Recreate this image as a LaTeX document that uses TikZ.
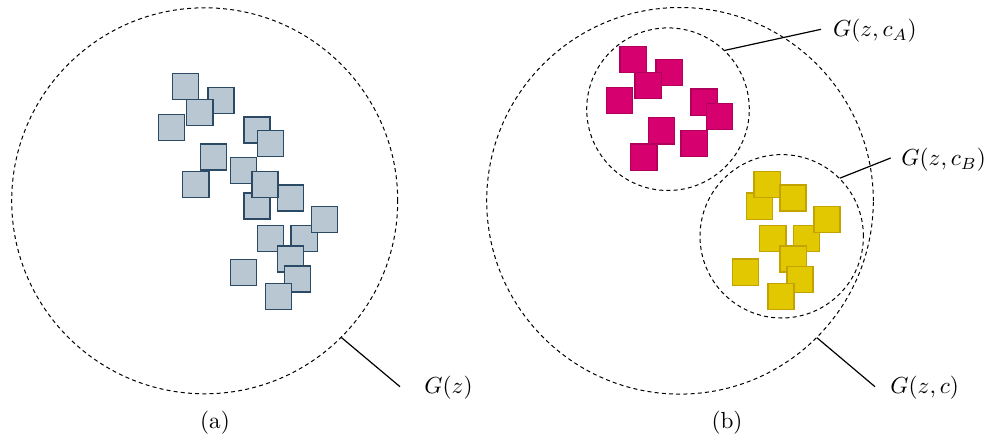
\documentclass[tikz,border=0pt]{standalone}
\begin{document}
\definecolor{greyfill}{HTML}{B9C7D2}
\definecolor{greyline}{HTML}{2B4A66}
\definecolor{magfill}{HTML}{D6006F}
\definecolor{magline}{HTML}{B0005C}
\definecolor{yelfill}{HTML}{E2C800}
\definecolor{yelline}{HTML}{C2A300}
\begin{tikzpicture}[x=0.5pt,y=-0.5pt,
  region/.style={circle, draw, line width=0.5pt, dash pattern=on 2pt off 1.6pt,
                 inner sep=0pt, minimum size=#1},
  sq/.style={rectangle, line width=0.65pt, inner sep=0pt, minimum size=13.1pt},
  gsq/.style={sq, fill=greyfill, draw=greyline},
  msq/.style={sq, fill=magfill, draw=magline},
  ysq/.style={sq, fill=yelfill, draw=yelline},
  leader/.style={line width=0.6pt},
  lab/.style={anchor=west, inner sep=0pt, scale=1.16},
  sublab/.style={inner sep=0pt, scale=1.16}]
\useasboundingbox (0,0) rectangle (986,439);

% (a) one region holding all samples
\node[region=193pt] (L) at (204.7,200.8) {};
\foreach \px/\py [count=\i] in {
  185.3/86.5, 221/100.3, 199.8/112.3, 171.5/127.3, 257/130, 270.3/143.5,
  213.5/157, 195.8/184.3, 243.4/170.7, 257/206, 290.7/198, 265/184.3,
  270.5/238.3, 304.2/238.3, 324.6/219.5, 290.7/259, 243.3/272.3,
  297.7/279, 278.5/296.7}
  \node[gsq] (g\i) at (\px,\py) {};

% (b) one outer region with two conditional sub-regions
\node[region=193.3pt] (R) at (680,200.8) {};
\node[region=81.3pt] (A) at (668,109.2) {};
\node[region=81.7pt] (B) at (781.7,236.3) {};
\foreach \px/\py [count=\i] in {
  633.2/59.5, 669.2/72.3, 648.2/85.3, 619.7/100.3, 704.2/102.2,
  719.3/116.7, 661.7/130.8, 643.8/157.2, 694.2/143.5}
  \node[msq] (m\i) at (\px,\py) {};
\foreach \px/\py [count=\i] in {
  759.3/206.2, 767.2/184.5, 793/198, 806.7/238.7, 827/219.7,
  772.8/238.7, 793.2/259, 745.7/272.2, 800/279.3, 781/296.7}
  \node[ysq] (y\i) at (\px,\py) {};

% labels and leader lines
\node[lab] (tz) at (424,388) {$G(z)$};
\node[lab] (tzc) at (890,388) {$G(z,c)$};
\node[lab] (tzA) at (832.7,31) {$G(z,c_A)$};
\node[lab] (tzB) at (901,160) {$G(z,c_B)$};
\coordinate (ez) at (400,386.7);
\coordinate (ezc) at (875,386.7);
\coordinate (ezA) at (821,29.3);
\coordinate (ezB) at (890.7,158);
\draw[leader] (L.-45) -- (ez);
\draw[leader] (R.-45) -- (ezc);
\draw[leader] (A.46) -- (ezA);
\draw[leader] (B.45) -- (ezB);

\node[sublab] (ca) at (215,423) {(a)};
\node[sublab] (cb) at (727,423) {(b)};
\end{tikzpicture}
\end{document}
